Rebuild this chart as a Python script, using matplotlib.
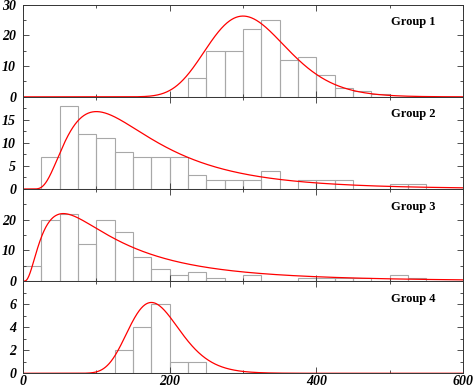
import numpy as np
import matplotlib
matplotlib.use("Agg")
import matplotlib.pyplot as plt
from matplotlib.ticker import MultipleLocator

# ---- data ----
bin_edges = list(range(0, 625, 25))
group_names = ["Group 1", "Group 2", "Group 3", "Group 4"]

counts_g1 = [0, 0, 0, 0, 0, 0, 0, 0, 0, 6, 15, 15, 22, 25, 12, 13, 7, 3, 2, 1, 0, 0, 0, 0]
counts_g2 = [0, 7, 18, 12, 11, 8, 7, 7, 7, 3, 2, 2, 2, 4, 0, 2, 2, 2, 0, 0, 1, 1, 0, 0]
counts_g3 = [5, 20, 22, 12, 20, 16, 8, 4, 2, 3, 1, 0, 2, 0, 0, 1, 1, 1, 1, 0, 2, 1, 0, 0]
counts_g4 = [0, 0, 0, 0, 0, 2, 4, 6, 1, 1, 0, 0, 0, 0, 0, 0, 0, 0, 0, 0, 0, 0, 0, 0]
all_counts = [counts_g1, counts_g2, counts_g3, counts_g4]

# fitted curve parameters (shifted log-normal): peak height, location, mode, shape
curve_peak = [26.3, 16.8, 22.0, 6.15]
curve_loc = [0.0, 10.0, 0.0, 0.0]
curve_mode = [300.0, 100.0, 55.0, 175.0]
curve_shape = [0.18, 0.65, 0.85, 0.20]

ylims = [30, 20, 30, 8]
y_major = [10, 5, 10, 2]
y_minor = [5, 2.5, 5, 1]
y_labels = [[0, 10, 20, 30], [0, 5, 10, 15], [0, 10, 20], [0, 2, 4, 6]]
x_labels = [0, 200, 400, 600]


def lognorm_curve(x, peak, loc, mode, s):
    xs = np.clip(x - loc, 1e-9, None)
    m = mode - loc
    mu = np.log(m) + s ** 2
    f = np.exp(-(np.log(xs) - mu) ** 2 / (2 * s ** 2)) / xs
    fm = np.exp(-(np.log(m) - mu) ** 2 / (2 * s ** 2)) / m
    y = peak * f / fm
    y[x <= loc] = 0
    return y


tick_font = dict(family="Liberation Serif", weight="bold", style="italic", size=10)

fig = plt.figure(figsize=(4.76, 3.90), dpi=100)
gs = fig.add_gridspec(4, 1, left=23 / 476, right=463 / 476,
                      bottom=1 - 373.3 / 390, top=1 - 4.7 / 390, hspace=0)

xs = np.linspace(0, 600, 1201)
edges = np.array(bin_edges)
for i in range(4):
    ax = fig.add_subplot(gs[i])
    c = np.array(all_counts[i])
    ax.bar(edges[:-1], c, width=25, align="edge", facecolor="none",
           edgecolor="#a8a8a8", linewidth=0.8)
    ax.plot(xs, lognorm_curve(xs, curve_peak[i], curve_loc[i], curve_mode[i], curve_shape[i]),
            color="red", linewidth=0.9)
    ax.set_xlim(0, 600)
    ax.set_ylim(0, ylims[i])
    ax.xaxis.set_major_locator(MultipleLocator(200))
    ax.xaxis.set_minor_locator(MultipleLocator(100))
    ax.yaxis.set_major_locator(MultipleLocator(y_major[i]))
    ax.yaxis.set_minor_locator(MultipleLocator(y_minor[i]))
    ax.tick_params(which="both", direction="in", top=True, right=True,
                   width=0.6, color="#333333")
    ax.tick_params(which="major", length=4)
    ax.tick_params(which="minor", length=2.5)
    ax.tick_params(axis="y", pad=5)
    ax.tick_params(axis="x", pad=1.5)
    ax.set_yticks(y_labels[i])
    ax.set_yticklabels([str(v) for v in y_labels[i]], fontdict=tick_font)
    if i == 3:
        ax.set_xticks(x_labels)
        ax.set_xticklabels([str(v) for v in x_labels], fontdict=tick_font)
    else:
        ax.tick_params(axis="x", labelbottom=False)
    for sp in ax.spines.values():
        sp.set_linewidth(0.7)
        sp.set_color("#333333")
    ax.text(0.937, 0.81, group_names[i], transform=ax.transAxes,
            ha="right", va="center", family="Liberation Serif",
            weight="bold", fontsize=9)

fig.savefig("out.png", dpi=100)
